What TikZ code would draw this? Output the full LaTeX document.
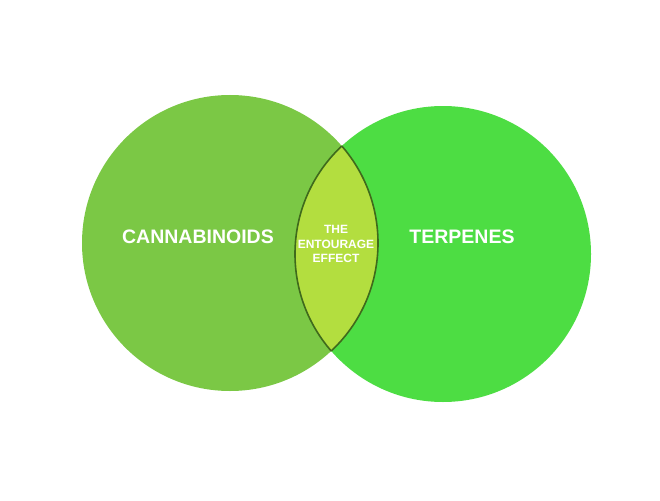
\documentclass[tikz,border=0pt]{standalone}
\usepackage{fontspec}
\setsansfont{Liberation Sans}
\definecolor{cannagreen}{HTML}{7BC845}
\definecolor{terpgreen}{HTML}{4DDD43}
\definecolor{lensgreen}{HTML}{B3DE3F}
\definecolor{lensedge}{HTML}{3F6A1C}
\begin{document}
\begin{tikzpicture}[
	x = 1pt, y = -1pt, % pixel-like units
	font = \sffamily\bfseries,
	text = white
	]
	
	\tikzstyle{every set}=[
	circle,
	inner sep = 0pt,
	minimum size = 296pt
	]
	\tikzstyle{lens line}=[draw = lensedge, line width = 1.6pt]
	
	\useasboundingbox (0,0) rectangle (660,500);
	
	\node[every set,fill=cannagreen] (qC) at (230,243) {};
	\node[every set,fill=terpgreen] (qT) at (443,254) {};
	
	% overlap of the two sets
	\begin{scope}
		\clip (qC.center) circle (148pt);
		\fill[lensgreen] (qT.center) circle (148pt);
		\draw[lens line] (qT.center) circle (148pt);
	\end{scope}
	\begin{scope}
		\clip (qT.center) circle (148pt);
		\draw[lens line] (qC.center) circle (148pt);
	\end{scope}
	
	\node[font=\fontsize{19.5}{22}\sffamily\bfseries] (qCl) at (198,237) {CANNABINOIDS};
	\node[font=\fontsize{19.5}{22}\sffamily\bfseries] (qTl) at (462,237) {TERPENES};
	\node[align=center,font=\fontsize{12}{14.5}\sffamily\bfseries] (qE) at (336,244) {THE\\ENTOURAGE\\EFFECT};
	
\end{tikzpicture}
\end{document}
